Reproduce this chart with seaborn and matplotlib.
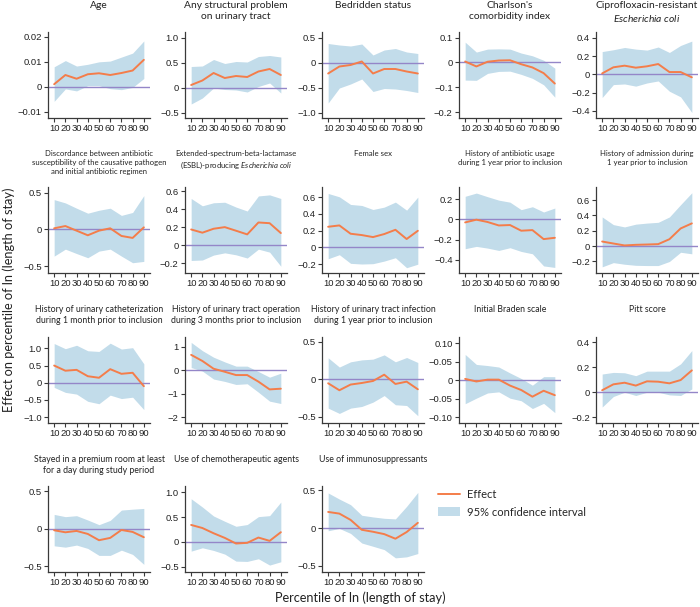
import matplotlib
matplotlib.use("Agg")
import matplotlib.pyplot as plt
import seaborn as sns
from matplotlib.lines import Line2D
from matplotlib.patches import Patch

# ---- data ----
percentiles = [10, 20, 30, 40, 50, 60, 70, 80, 90]

titles = [
    "Age",
    "Any structural problem\non urinary tract",
    "Bedridden status",
    "Charlson's\ncomorbidity index",
    "Ciprofloxacin-resistant\n$\\mathit{Escherichia\\ coli}$",
    "Discordance between antibiotic\nsusceptibility of the causative pathogen\nand initial antibiotic regimen",
    "Extended-spectrum-beta-lactamase\n(ESBL)-producing $\\mathit{Escherichia\\ coli}$",
    "Female sex",
    "History of antibiotic usage\nduring 1 year prior to inclusion",
    "History of admission during\n1 year prior to inclusion",
    "History of urinary catheterization\nduring 1 month prior to inclusion",
    "History of urinary tract operation\nduring 3 months prior to inclusion",
    "History of urinary tract infection\nduring 1 year prior to inclusion",
    "Initial Braden scale",
    "Pitt score",
    "Stayed in a premium room at least\nfor a day during study period",
    "Use of chemotherapeutic agents",
    "Use of immunosuppressants",
]

effect = [
    [0.001, 0.0047, 0.0032, 0.005, 0.0054, 0.0047, 0.0055, 0.0065, 0.0108],
    [0.05, 0.14, 0.29, 0.19, 0.23, 0.21, 0.32, 0.37, 0.25],
    [-0.22, -0.08, -0.05, 0.02, -0.22, -0.13, -0.13, -0.18, -0.22],
    [0.004, -0.016, 0.003, 0.008, 0.009, -0.007, -0.02, -0.043, -0.085],
    [0.01, 0.077, 0.095, 0.073, 0.088, 0.113, 0.025, 0.025, -0.033],
    [0.014, 0.045, -0.018, -0.081, -0.018, 0.014, -0.09, -0.117, 0.027],
    [0.176, 0.14, 0.184, 0.202, 0.162, 0.121, 0.254, 0.246, 0.136],
    [0.246, 0.262, 0.163, 0.147, 0.123, 0.159, 0.21, 0.1, 0.198],
    [-0.03, -0.003, -0.026, -0.06, -0.056, -0.112, -0.106, -0.195, -0.182],
    [0.06, 0.034, 0.009, 0.017, 0.021, 0.026, 0.09, 0.23, 0.296],
    [0.5, 0.35, 0.375, 0.19, 0.145, 0.395, 0.26, 0.29, -0.1],
    [0.65, 0.39, 0.06, -0.07, -0.21, -0.21, -0.49, -0.82, -0.79],
    [-0.053, -0.146, -0.07, -0.049, -0.022, 0.062, -0.062, -0.031, -0.133],
    [0.004, -0.003, 0.002, 0.002, -0.014, -0.026, -0.044, -0.028, -0.04],
    [0.016, 0.063, 0.076, 0.053, 0.087, 0.084, 0.071, 0.097, 0.174],
    [-0.022, -0.049, -0.031, -0.071, -0.155, -0.124, -0.018, -0.044, -0.115],
    [0.342, 0.28, 0.174, 0.08, -0.034, -0.02, 0.087, 0.02, 0.195],
    [0.214, 0.192, 0.109, -0.022, -0.048, -0.079, -0.14, -0.052, 0.07],
]

upper = [
    [0.008, 0.0105, 0.0083, 0.009, 0.01, 0.0103, 0.0119, 0.0135, 0.0184],
    [0.42, 0.43, 0.56, 0.48, 0.52, 0.51, 0.62, 0.64, 0.61],
    [0.38, 0.35, 0.33, 0.37, 0.15, 0.25, 0.28, 0.21, 0.18],
    [0.082, 0.042, 0.054, 0.055, 0.054, 0.038, 0.027, 0.009, -0.023],
    [0.25, 0.27, 0.295, 0.277, 0.266, 0.3, 0.24, 0.317, 0.365],
    [0.405, 0.36, 0.288, 0.22, 0.26, 0.288, 0.19, 0.23, 0.46],
    [0.522, 0.44, 0.474, 0.48, 0.426, 0.382, 0.55, 0.562, 0.522],
    [0.643, 0.603, 0.512, 0.5, 0.452, 0.48, 0.54, 0.444, 0.6],
    [0.228, 0.26, 0.224, 0.19, 0.17, 0.096, 0.125, 0.073, 0.112],
    [0.38, 0.28, 0.25, 0.286, 0.3, 0.31, 0.38, 0.54, 0.695],
    [1.14, 0.99, 1.09, 0.93, 0.91, 1.15, 0.98, 1.02, 0.55],
    [1.18, 0.83, 0.55, 0.35, 0.17, 0.17, -0.06, -0.3, -0.13],
    [0.288, 0.164, 0.234, 0.26, 0.27, 0.327, 0.234, 0.292, 0.225],
    [0.07, 0.043, 0.04, 0.036, 0.02, 0.005, -0.013, 0.01, 0.01],
    [0.145, 0.158, 0.155, 0.132, 0.168, 0.168, 0.168, 0.226, 0.332],
    [0.19, 0.16, 0.173, 0.115, 0.053, 0.11, 0.248, 0.26, 0.27],
    [0.872, 0.705, 0.523, 0.416, 0.315, 0.35, 0.51, 0.53, 0.805],
    [0.465, 0.384, 0.31, 0.17, 0.148, 0.13, 0.122, 0.288, 0.472],
]

lower = [
    [-0.0059, -0.0009, -0.0017, 0.0004, 0.0004, -0.0008, -0.0012, -0.0003, 0.0033],
    [-0.33, -0.21, -0.01, -0.04, -0.05, -0.09, 0.02, 0.09, -0.11],
    [-0.81, -0.51, -0.43, -0.33, -0.58, -0.52, -0.53, -0.56, -0.6],
    [-0.071, -0.072, -0.044, -0.036, -0.035, -0.048, -0.064, -0.09, -0.14],
    [-0.255, -0.113, -0.106, -0.13, -0.095, -0.073, -0.186, -0.248, -0.42],
    [-0.365, -0.27, -0.33, -0.387, -0.297, -0.27, -0.365, -0.455, -0.437],
    [-0.17, -0.165, -0.11, -0.085, -0.107, -0.143, -0.044, -0.077, -0.235],
    [-0.135, -0.087, -0.19, -0.198, -0.194, -0.163, -0.123, -0.242, -0.2],
    [-0.29, -0.267, -0.284, -0.307, -0.28, -0.317, -0.34, -0.46, -0.475],
    [-0.27, -0.215, -0.236, -0.25, -0.253, -0.253, -0.2, -0.08, -0.1],
    [-0.135, -0.28, -0.33, -0.54, -0.61, -0.36, -0.46, -0.42, -0.78],
    [0.11, -0.04, -0.38, -0.48, -0.61, -0.58, -0.94, -1.32, -1.42],
    [-0.385, -0.456, -0.385, -0.363, -0.305, -0.217, -0.34, -0.35, -0.487],
    [-0.063, -0.048, -0.034, -0.031, -0.048, -0.055, -0.076, -0.062, -0.087],
    [-0.118, -0.034, 0.0, -0.026, 0.0, 0.0, -0.021, -0.026, 0.026],
    [-0.23, -0.248, -0.22, -0.265, -0.358, -0.358, -0.288, -0.345, -0.478],
    [-0.188, -0.12, -0.174, -0.248, -0.39, -0.396, -0.342, -0.47, -0.403],
    [-0.035, -0.004, -0.07, -0.197, -0.24, -0.284, -0.393, -0.38, -0.336],
]

yticks = [
    [-0.01, 0, 0.01, 0.02],
    [-0.5, 0, 0.5, 1.0],
    [-1.0, -0.5, 0, 0.5],
    [-0.2, -0.1, 0, 0.1],
    [-0.4, -0.2, 0, 0.2, 0.4],
    [-0.5, 0, 0.5],
    [-0.2, 0, 0.2, 0.4, 0.6],
    [-0.2, 0, 0.2, 0.4, 0.6],
    [-0.4, -0.2, 0, 0.2],
    [-0.2, 0, 0.2, 0.4, 0.6],
    [-1.0, -0.5, 0, 0.5, 1.0],
    [-2, -1, 0, 1],
    [-0.5, 0, 0.5],
    [-0.10, -0.05, 0, 0.05, 0.10],
    [-0.2, 0, 0.2, 0.4],
    [-0.5, 0, 0.5],
    [-0.5, 0, 0.5, 1.0],
    [-0.5, 0, 0.5],
]

ytick_labels = [
    ["\u22120.01", "0", "0.01", "0.02"],
    ["\u22120.5", "0", "0.5", "1.0"],
    ["\u22121.0", "\u22120.5", "0", "0.5"],
    ["\u22120.2", "\u22120.1", "0", "0.1"],
    ["\u22120.4", "\u22120.2", "0", "0.2", "0.4"],
    ["\u22120.5", "0", "0.5"],
    ["\u22120.2", "0", "0.2", "0.4", "0.6"],
    ["\u22120.2", "0", "0.2", "0.4", "0.6"],
    ["\u22120.4", "\u22120.2", "0", "0.2"],
    ["\u22120.2", "0", "0.2", "0.4", "0.6"],
    ["\u22121.0", "\u22120.5", "0", "0.5", "1.0"],
    ["\u22122", "\u22121", "0", "1"],
    ["\u22120.5", "0", "0.5"],
    ["\u22120.10", "\u22120.05", "0", "\u22120.05", "0.10"],
    ["\u22120.2", "0", "0.2", "0.4"],
    ["\u22120.5", "0", "0.5"],
    ["\u22120.5", "0", "0.5", "1.0"],
    ["\u22120.5", "0", "0.5"],
]

# ---- layout (pixels in a 700x607 canvas) ----
ylims = [
    (-0.0126, 0.022), (-0.61, 1.11), (-1.11, 0.61), (-0.224, 0.123), (-0.48, 0.465),
    (-0.595, 0.577), (-0.31, 0.65), (-0.305, 0.72), (-0.53, 0.32), (-0.35, 0.77),
    (-1.17, 1.33), (-2.25, 1.41), (-0.584, 0.566), (-0.115, 0.117), (-0.245, 0.44),
    (-0.58, 0.57), (-0.61, 1.13), (-0.58, 0.557),
]
W, H = 700, 607
col_left = [48, 185, 322, 459, 596]
row_top = [32, 187, 337, 486]
ax_w, ax_h = 102, 86
title_top = [1, 150, 305, 455]
title_size = [7.4, 5.6, 6.35, 6.35]

ORANGE = "#f47d4a"
BAND = "#c2dcea"
ZERO = "#9486c8"
SPINE = "#3a3a3a"

sns.set_style("ticks")
plt.rcParams["font.family"] = ["Liberation Sans", "DejaVu Sans"]
plt.rcParams["mathtext.fontset"] = "custom"
plt.rcParams["mathtext.rm"] = "Lato"
plt.rcParams["mathtext.it"] = "Lato:italic"

fig = plt.figure(figsize=(W / 100, H / 100), dpi=100)

for i in range(18):
    r, c = divmod(i, 5)
    left = col_left[c] / W
    bottom = 1 - (row_top[r] + ax_h) / H
    ax = fig.add_axes([left, bottom, ax_w / W, ax_h / H])

    ax.fill_between(percentiles, lower[i], upper[i], color=BAND, lw=0, zorder=1)
    ax.axhline(0, color=ZERO, lw=1.0, zorder=2)
    sns.lineplot(x=percentiles, y=effect[i], ax=ax, color=ORANGE, lw=1.4, zorder=3)

    ax.set_xlim(4.5, 95.5)
    ax.set_ylim(*ylims[i])
    ax.set_xticks(percentiles)
    ax.set_xticklabels([str(p) for p in percentiles])
    ax.set_yticks(yticks[i])
    ax.set_yticklabels(ytick_labels[i])
    ax.tick_params(labelsize=6.8, length=3, width=0.8, pad=1.5, colors=SPINE, labelcolor="#222222")
    for s in ["top", "right"]:
        ax.spines[s].set_visible(False)
    for s in ["left", "bottom"]:
        ax.spines[s].set_color(SPINE)
        ax.spines[s].set_linewidth(0.9)
    ax.set_xlabel("")
    ax.set_ylabel("")

    cx = (col_left[c] + ax_w / 2) / W
    fig.text(cx, 1 - title_top[r] / H, titles[i], ha="center", va="top",
             fontsize=title_size[r], family=["Lato", "DejaVu Sans"], color="#222222",
             linespacing=1.3)

fig.text(360 / W, 1 - 598 / H, "Percentile of ln (length of stay)", ha="center", va="center",
         fontsize=9.2, family=["Lato", "DejaVu Sans"], color="#222222")
fig.text(9 / W, 1 - 300 / H, "Effect on percentile of ln (length of stay)", ha="center",
         va="center", rotation=90, fontsize=9.2, family=["Lato", "DejaVu Sans"], color="#222222")

handles = [Line2D([0], [0], color=ORANGE, lw=1.4),
           Patch(facecolor=BAND, edgecolor="none")]
fig.legend(handles, ["Effect", "95% confidence interval"], loc="upper left",
           bbox_to_anchor=(428 / W, 1 - 479 / H), frameon=False,
           prop={"family": "Lato", "size": 8}, handlelength=2.0, handleheight=0.9,
           labelspacing=0.6, handletextpad=0.6)

fig.savefig("out.png", dpi=100)
